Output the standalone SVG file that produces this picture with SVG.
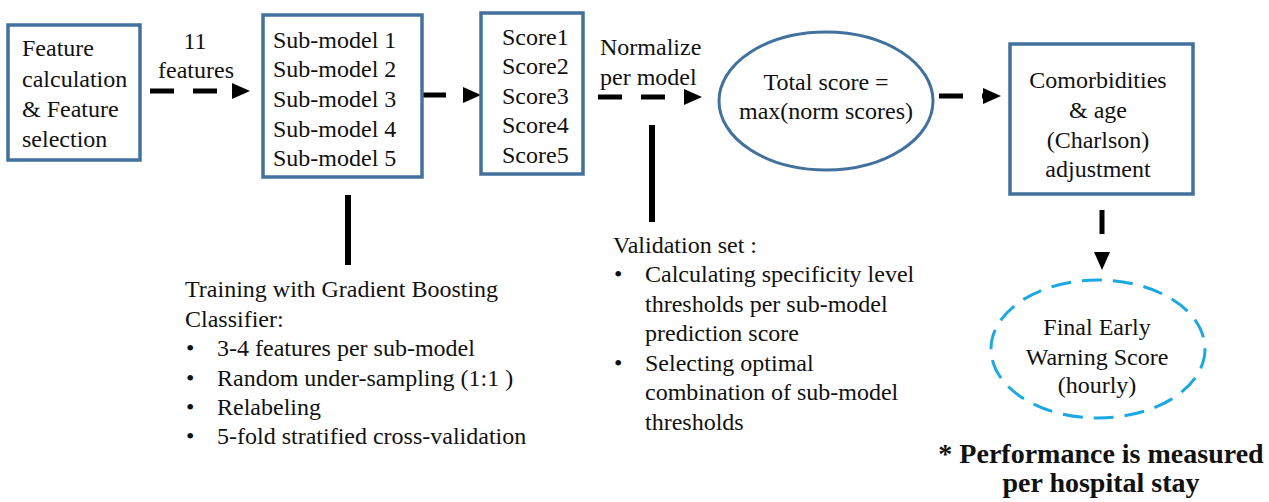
<svg xmlns="http://www.w3.org/2000/svg" width="1269" height="502" viewBox="0 0 1269 502" font-family="'Liberation Serif', 'DejaVu Serif', serif">
<style>
text{font-family:'Liberation Serif','DejaVu Serif',serif;font-size:24px;fill:#111}
.box{fill:#fff;stroke:#41719c;stroke-width:3.5}
.ell{fill:#fff;stroke:#41719c;stroke-width:3}
.dell{fill:#fff;stroke:#1ca8e0;stroke-width:3;stroke-dasharray:20 11}
.dash{fill:none;stroke:#000;stroke-width:5;stroke-dasharray:24 19}
.solid{fill:none;stroke:#000;stroke-width:6}
.c{text-anchor:middle}
.b{font-weight:bold;font-size:28px}
</style>
<defs>
<marker id="ah" markerUnits="userSpaceOnUse" markerWidth="18" markerHeight="16" refX="0" refY="8" orient="auto">
<path d="M0,0 L18,8 L0,16 z" fill="#000"/>
</marker>
</defs>
<rect width="1269" height="502" fill="#fff"/>
<g id="connectors">
<path class="dash" d="M150,91 L232,91" marker-end="url(#ah)"/>
<path class="dash" d="M422,95 L463,95" marker-end="url(#ah)"/>
<path class="dash" d="M598,97 L684,97" marker-end="url(#ah)"/>
<path class="dash" d="M939,96 L983,96" marker-end="url(#ah)"/>
<path class="dash" d="M1102,210 L1102,252" marker-end="url(#ah)"/>
<path class="solid" d="M348,195 L348,265"/>
<path class="solid" d="M652,125 L652,222"/>
<text x="195" y="49" class="c">11</text>
<text x="196" y="78" class="c">features</text>
<text x="600" y="55">Normalize</text>
<text x="600" y="85">per model</text>
</g>
<g id="feature-calc">
<rect class="box" x="8" y="25" width="132" height="135"/>
<text x="22" y="56">Feature</text>
<text x="22" y="87">calculation</text>
<text x="22" y="117">&amp; Feature</text>
<text x="22" y="147">selection</text>
</g>
<g id="submodels">
<rect class="box" x="263" y="15" width="159" height="162"/>
<text x="273" y="48">Sub-model 1</text>
<text x="273" y="77">Sub-model 2</text>
<text x="273" y="107">Sub-model 3</text>
<text x="273" y="137">Sub-model 4</text>
<text x="273" y="166">Sub-model 5</text>
</g>
<g id="scores">
<rect class="box" x="481" y="13" width="102" height="161"/>
<text x="502" y="45">Score1</text>
<text x="502" y="74">Score2</text>
<text x="502" y="104">Score3</text>
<text x="502" y="133">Score4</text>
<text x="502" y="163">Score5</text>
</g>
<g id="total-score">
<ellipse class="ell" cx="826" cy="101" rx="107" ry="69"/>
<text x="826" y="90" class="c">Total score =</text>
<text x="826" y="119" class="c">max(norm scores)</text>
</g>
<g id="comorbidities">
<rect class="box" x="1010" y="44" width="183" height="150"/>
<text x="1098" y="88" class="c">Comorbidities</text>
<text x="1098" y="118" class="c">&amp; age</text>
<text x="1098" y="148" class="c">(Charlson)</text>
<text x="1098" y="177" class="c">adjustment</text>
</g>
<g id="final-score">
<ellipse class="dell" cx="1098" cy="349" rx="107" ry="69"/>
<text x="1097" y="335" class="c">Final Early</text>
<text x="1097" y="365" class="c">Warning Score</text>
<text x="1097" y="393" class="c">(hourly)</text>
</g>
<g id="training-note">
<text x="185" y="297">Training with Gradient Boosting</text>
<text x="185" y="327">Classifier:</text>
<text x="186" y="356">•</text><text x="217" y="356">3-4 features per sub-model</text>
<text x="186" y="386">•</text><text x="217" y="386">Random under-sampling (1:1 )</text>
<text x="186" y="415">•</text><text x="217" y="415">Relabeling</text>
<text x="186" y="444">•</text><text x="217" y="444">5-fold stratified cross-validation</text>
</g>
<g id="validation-note">
<text x="613" y="253">Validation set :</text>
<text x="614" y="282">•</text><text x="645" y="282">Calculating specificity level</text>
<text x="645" y="312">thresholds per sub-model</text>
<text x="645" y="341">prediction score</text>
<text x="614" y="371">•</text><text x="645" y="371">Selecting optimal</text>
<text x="645" y="400">combination of sub-model</text>
<text x="645" y="430">thresholds</text>
</g>
<g id="performance-note">
<text x="1101" y="463" class="c b">* Performance is measured</text>
<text x="1101" y="492" class="c b">per hospital stay</text>
</g>
</svg>
